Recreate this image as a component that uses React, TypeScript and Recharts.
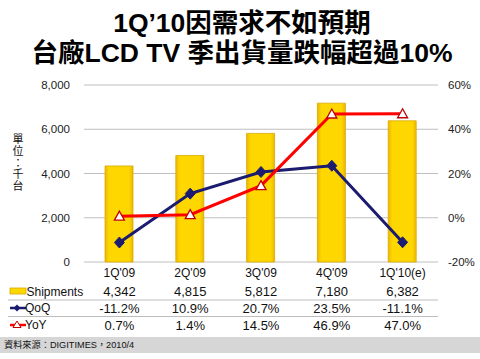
import React from "react";
import { ComposedChart, Bar, Line, XAxis, YAxis, CartesianGrid } from "recharts";

const categories = ["1Q'09", "2Q'09", "3Q'09", "4Q'09", "1Q'10(e)"];
const shipments = [4342, 4815, 5812, 7180, 6382];
const qoq = [-11.2, 10.9, 20.7, 23.5, -11.1];
const yoy = [0.7, 1.4, 14.5, 46.9, 47.0];
const leftTicks = [0, 2000, 4000, 6000, 8000];
const rightTicks = [-20, 0, 20, 40, 60];
const titleLines = ["1Q\u201910因需求不如預期", "台廠LCD TV 季出貨量跌幅超過10%"];
const unitLabel = ["單", "位", "：", "千", "台"];
const sourceText = "資料來源：DIGITIMES，2010/4";

const data = categories.map((c, i) => ({
  cat: c,
  shipments: shipments[i],
  qoq: qoq[i],
  yoy: yoy[i],
}));

const FONT = "'Liberation Sans', Arial, 'Noto Sans CJK TC', sans-serif";
const NAVY = "#1B1B6F";
const RED = "#FF0000";

const ROW_CAT = 273;
const ROW_SHIP = 291.5;
const ROW_QOQ = 308;
const ROW_YOY = 325;

const fmtNum = (v: number) => v.toLocaleString("en-US");
const fmtPct = (v: number) => `${v.toFixed(1)}%`;

const Diamond = (props: any) => {
  const { cx, cy } = props;
  if (cx == null || cy == null) return null;
  return (
    <path
      d={`M${cx},${cy - 5.5} L${cx + 5},${cy} L${cx},${cy + 5.5} L${cx - 5},${cy} Z`}
      fill={NAVY}
      stroke={NAVY}
      strokeWidth={1}
    />
  );
};

const Triangle = (props: any) => {
  const { cx, cy } = props;
  if (cx == null || cy == null) return null;
  return (
    <path
      d={`M${cx},${cy - 5} L${cx + 5},${cy + 4} L${cx - 5},${cy + 4} Z`}
      fill="#FFFFFF"
      stroke="#C00000"
      strokeWidth={1.3}
    />
  );
};

const TableTick = (props: any) => {
  const { x, payload, index } = props;
  const i = index as number;
  return (
    <g fontFamily={FONT}>
      {i === 0 && (
        <g>
          <line x1={8} x2={438} y1={300} y2={300} stroke="#BDBDBD" strokeWidth={1} />
          <line x1={8} x2={438} y1={316.5} y2={316.5} stroke="#BDBDBD" strokeWidth={1} />
          <rect x={10} y={288} width={16} height={6} fill="#FFD700" stroke="#D4A800" strokeWidth={0.8} />
          <text x={26.5} y={ROW_SHIP} dominantBaseline="central" fontSize={12} fill="#111">Shipments</text>
          <line x1={10} x2={26} y1={ROW_QOQ} y2={ROW_QOQ} stroke={NAVY} strokeWidth={2.5} />
          <path d={`M17,${ROW_QOQ - 3.5} L20.5,${ROW_QOQ} L17,${ROW_QOQ + 3.5} L13.5,${ROW_QOQ} Z`} fill={NAVY} />
          <text x={25} y={ROW_QOQ} dominantBaseline="central" fontSize={12} fill="#111">QoQ</text>
          <line x1={10} x2={26} y1={ROW_YOY} y2={ROW_YOY} stroke={RED} strokeWidth={2.5} />
          <path d={`M17,${ROW_YOY - 4} L21,${ROW_YOY + 2.5} L13,${ROW_YOY + 2.5} Z`} fill="#FFFFFF" stroke="#C00000" strokeWidth={1} />
          <text x={25} y={ROW_YOY} dominantBaseline="central" fontSize={12} fill="#111">YoY</text>
        </g>
      )}
      <text x={x} y={ROW_CAT} textAnchor="middle" dominantBaseline="central" fontSize={12} fill="#111">
        {payload.value}
      </text>
      <text x={x} y={ROW_SHIP} textAnchor="middle" dominantBaseline="central" fontSize={13} fill="#111">
        {fmtNum(shipments[i])}
      </text>
      <text x={x} y={ROW_QOQ} textAnchor="middle" dominantBaseline="central" fontSize={13} fill="#111">
        {fmtPct(qoq[i])}
      </text>
      <text x={x} y={ROW_YOY} textAnchor="middle" dominantBaseline="central" fontSize={13} fill="#111">
        {fmtPct(yoy[i])}
      </text>
    </g>
  );
};

export default function App() {
  return (
    <div
      style={{
        position: "absolute",
        left: 0,
        top: 0,
        width: 480,
        height: 359,
        background: "#FFFFFF",
        overflow: "hidden",
        fontFamily: FONT,
      }}
    >
      <div
        style={{
          position: "absolute",
          left: 0,
          top: 8,
          width: 484,
          textAlign: "center",
          fontSize: 26.5,
          fontWeight: 700,
          lineHeight: "30px",
          color: "#000",
          whiteSpace: "nowrap",
        }}
      >
        <div>{titleLines[0]}</div>
        <div>{titleLines[1]}</div>
      </div>
      <div
        style={{
          position: "absolute",
          left: 11,
          top: 134,
          width: 14,
          textAlign: "center",
          fontSize: 11,
          lineHeight: "11.8px",
          color: "#111",
        }}
      >
        {unitLabel.map((c, i) => (
          <div key={i}>{c}</div>
        ))}
      </div>
      <ComposedChart
        width={480}
        height={359}
        data={data}
        margin={{ top: 85, right: 0, bottom: 0, left: 0 }}
        barCategoryGap={0}
      >
        <defs>
          <linearGradient id="goldGrad" x1="0" y1="0" x2="1" y2="0">
            <stop offset="0%" stopColor="#EBB800" />
            <stop offset="15%" stopColor="#FFD700" />
            <stop offset="85%" stopColor="#FFD700" />
            <stop offset="100%" stopColor="#EBB800" />
          </linearGradient>
        </defs>
        <CartesianGrid vertical={false} stroke="#BFBFBF" strokeWidth={1} yAxisId="left" />
        <XAxis
          dataKey="cat"
          height={97}
          axisLine={false}
          tickLine={false}
          interval={0}
          tick={<TableTick />}
        />
        <YAxis
          yAxisId="left"
          orientation="left"
          width={84}
          domain={[0, 8000]}
          ticks={leftTicks}
          axisLine={false}
          tickLine={false}
          tickMargin={8}
          tickFormatter={fmtNum}
          tick={{ fontSize: 11.5, fill: "#222", fontFamily: FONT }}
        />
        <YAxis
          yAxisId="right"
          orientation="right"
          width={42}
          domain={[-20, 60]}
          ticks={rightTicks}
          axisLine={false}
          tickLine={false}
          tickMargin={4}
          tickFormatter={(v: number) => `${v}%`}
          tick={{ fontSize: 11.5, fill: "#222", fontFamily: FONT }}
        />
        <Bar
          yAxisId="left"
          dataKey="shipments"
          barSize={28}
          fill="url(#goldGrad)"
          stroke="#D9AA00"
          strokeWidth={0.8}
          isAnimationActive={false}
        />
        <Line
          yAxisId="right"
          dataKey="qoq"
          stroke={NAVY}
          strokeWidth={3}
          dot={<Diamond />}
          activeDot={false}
          isAnimationActive={false}
        />
        <Line
          yAxisId="right"
          dataKey="yoy"
          stroke={RED}
          strokeWidth={3}
          dot={<Triangle />}
          activeDot={false}
          isAnimationActive={false}
        />
      </ComposedChart>
      <div
        style={{
          position: "absolute",
          left: 0,
          top: 337,
          width: 480,
          height: 16,
          background: "#D6D6D6",
          fontSize: 9.2,
          lineHeight: "16px",
          color: "#111",
          paddingLeft: 4,
          boxSizing: "border-box",
        }}
      >
        {sourceText}
      </div>
    </div>
  );
}
